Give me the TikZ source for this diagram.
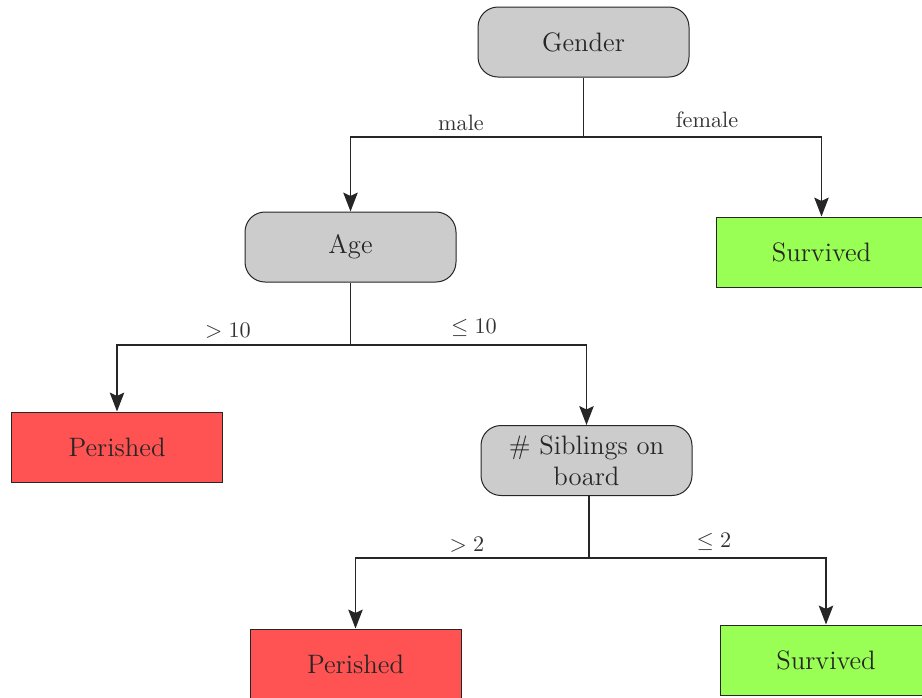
\documentclass[tikz,border=0pt]{standalone}
\usetikzlibrary{arrows.meta}
\definecolor{splitgray}{RGB}{204,204,204}
\definecolor{deadred}{RGB}{255,82,82}
\definecolor{livegreen}{RGB}{153,255,85}
\begin{document}
\begin{tikzpicture}[x=0.45pt,y=-0.45pt,
  box/.style={draw=black!85,line width=0.45pt,minimum width=94.95pt,minimum height=31.5pt,
    inner sep=0pt,text=black!85,font=\large,align=center},
  split/.style={box,fill=splitgray,rounded corners=9pt},
  perished/.style={box,fill=deadred},
  survived/.style={box,fill=livegreen},
  stem/.style={draw=black!85,line width=0.5pt},
  wire/.style={draw=black!85,line width=0.7pt},
  arrow/.style={wire,-{Stealth[length=8.5pt,width=6.5pt,inset=1.5pt]}},
  cond/.style={text=black!80,inner sep=0pt}]
\useasboundingbox (0,0) rectangle (922,697);
\clip (0,0) rectangle (922,697);

% decision nodes
\node[split] (gender) at (583.5,42) {Gender};
\node[split] (age) at (350.5,247) {Age};
\node[split] (sib) at (586.5,460.5) {\# Siblings on\\board};

% leaves
\node[survived] (surv1) at (821.5,252) {Survived};
\node[perished] (per1) at (117,447) {Perished};
\node[perished] (per2) at (355.5,664) {Perished};
\node[survived] (surv2) at (826,660) {Survived};

% branch junctions
\coordinate (j1) at (583.5,137);
\coordinate (j2) at (350.5,345);
\coordinate (j3) at (589,558);

% connectors
\draw[stem] (gender.south) -- (j1);
\draw[arrow] (j1) -| (age.north);
\draw[arrow] (j1) -| (surv1.north);
\draw[stem] (age.south) -- (j2);
\draw[arrow] (j2) -| (per1.north);
\draw[arrow] (j2) -| (sib.north);
\draw[stem] (sib.south -| j3) -- (j3);
\draw[arrow] (j3) -| (per2.north);
\draw[arrow] (j3) -| (surv2.north);

% branch conditions
\node[cond] (lmale) at (461,123) {male};
\node[cond] (lfemale) at (707,120) {female};
\node[cond] (lgt10) at (228,331) {$>10$};
\node[cond] (lle10) at (474,328) {$\leq 10$};
\node[cond] (lgt2) at (467,545) {$>2$};
\node[cond] (lle2) at (714,542) {$\leq 2$};
\end{tikzpicture}
\end{document}
